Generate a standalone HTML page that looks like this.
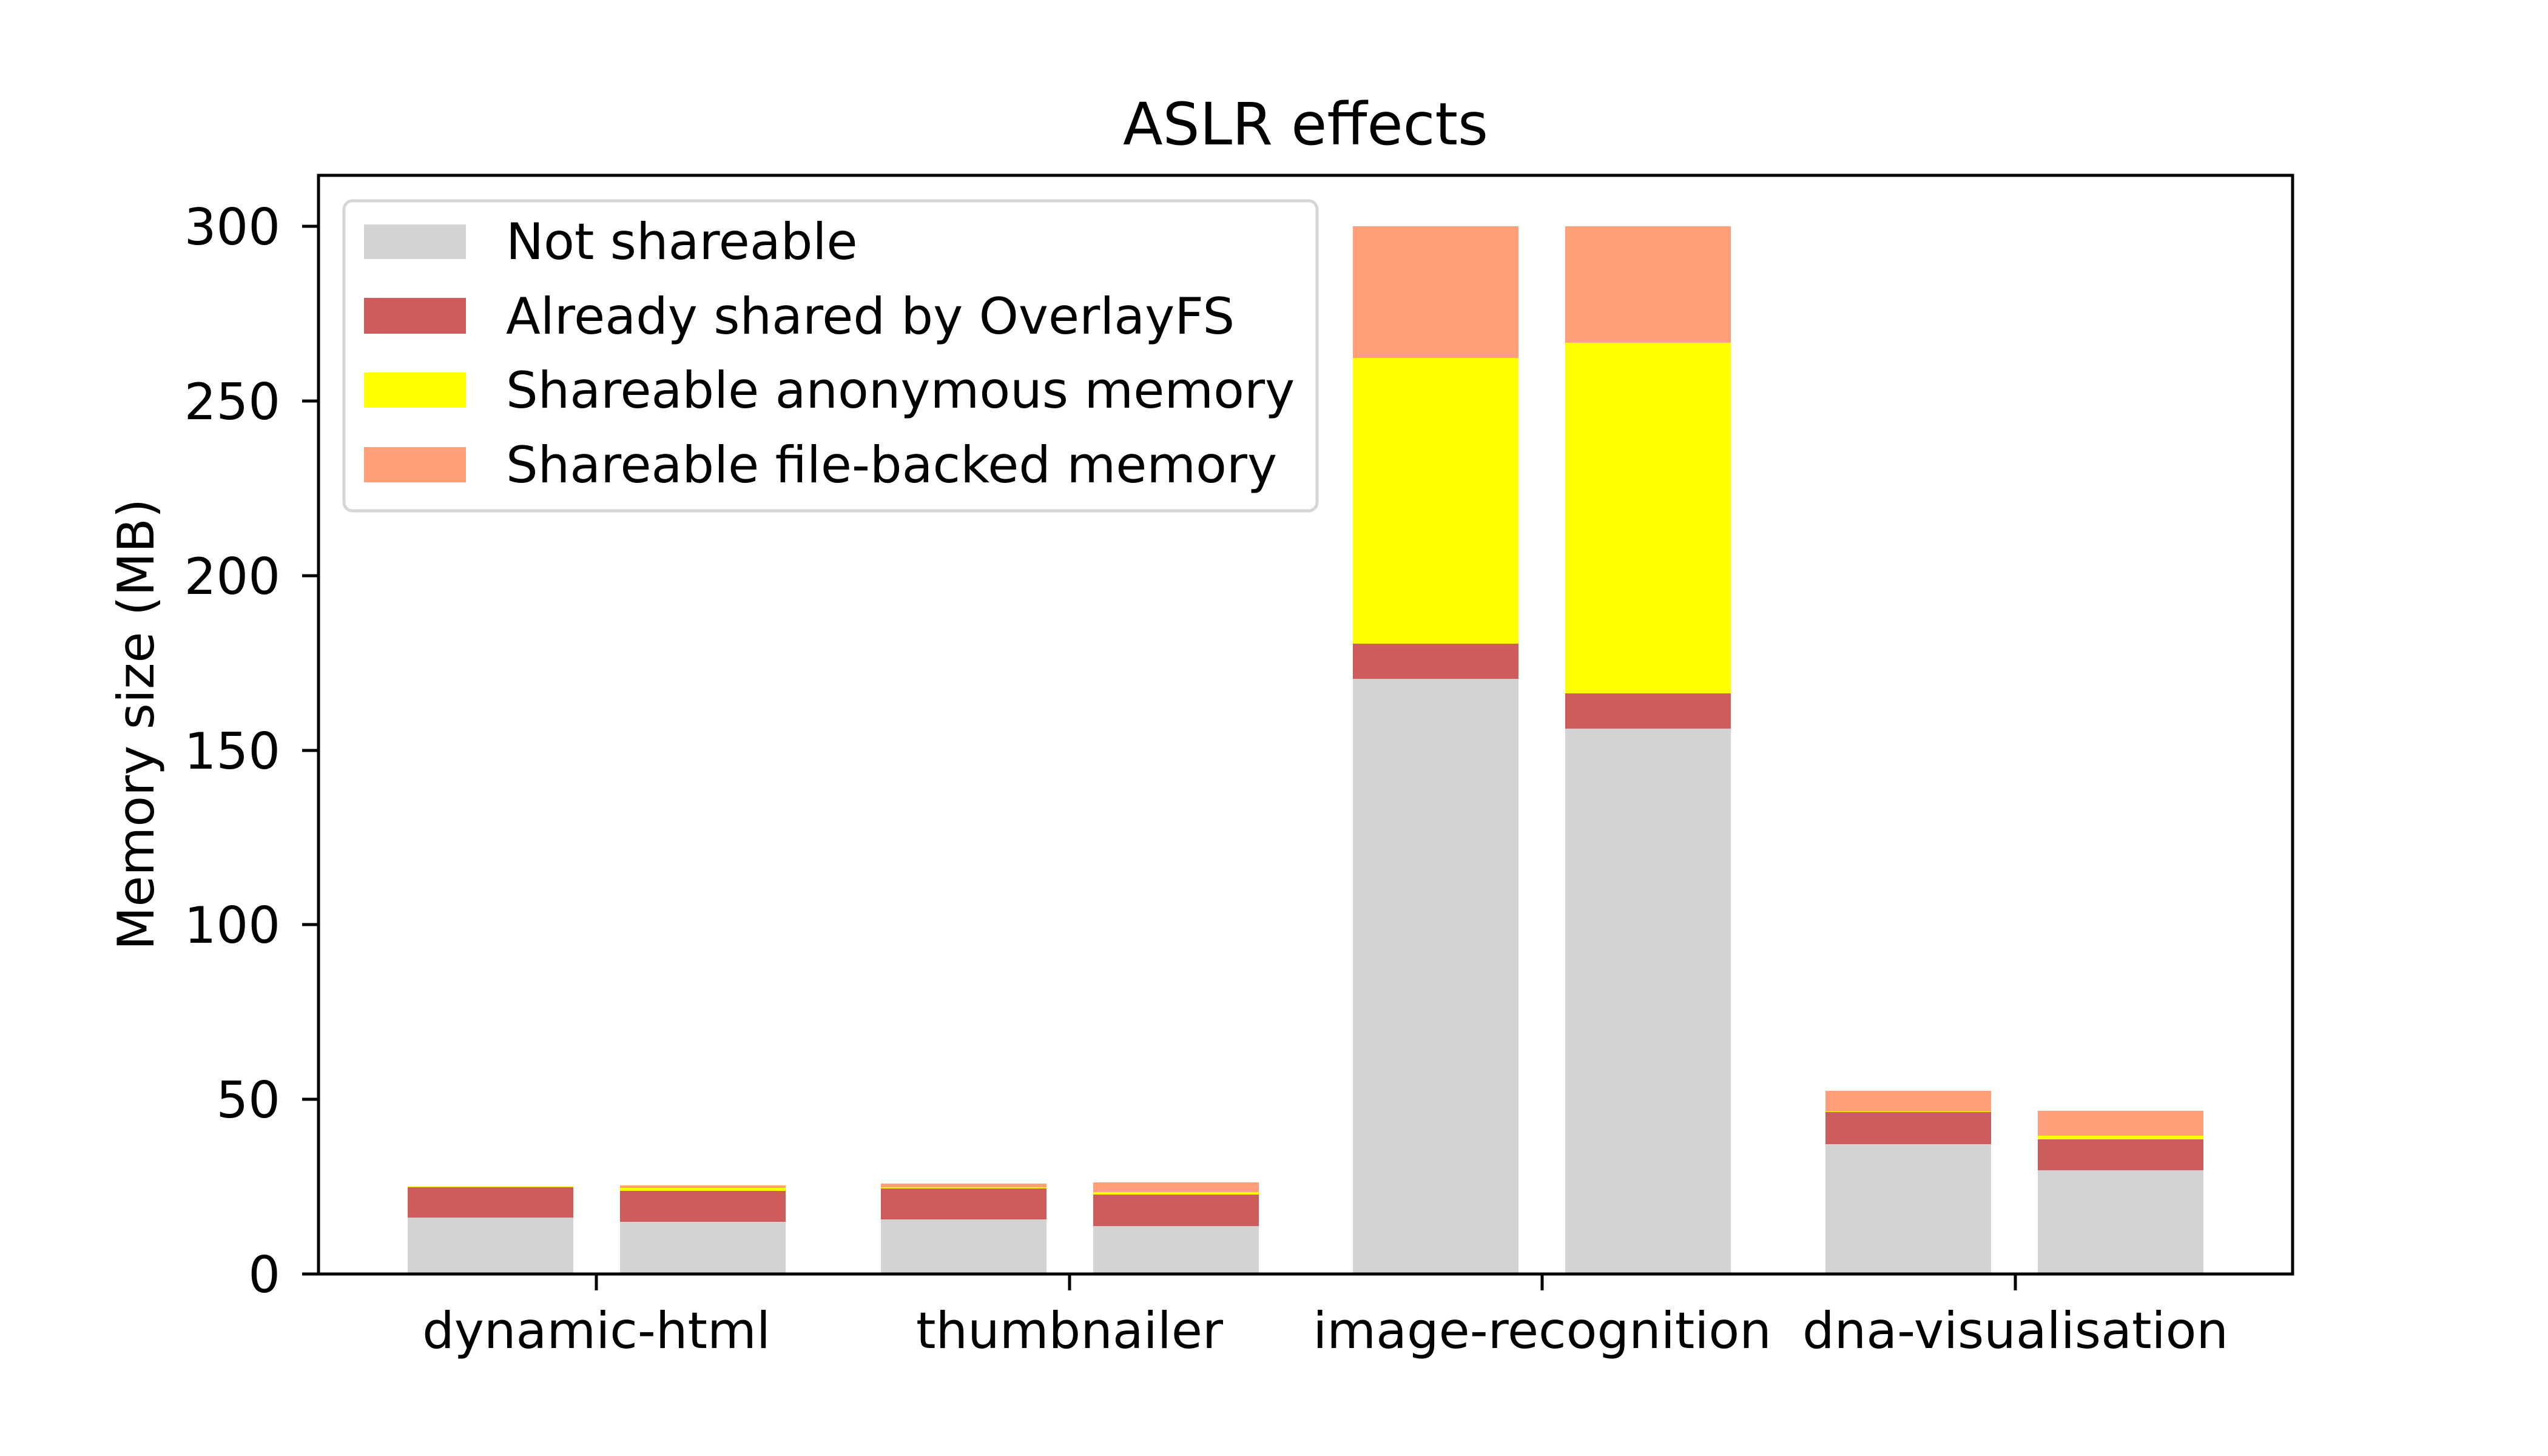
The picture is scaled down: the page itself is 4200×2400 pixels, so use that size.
<!DOCTYPE html>
<html><head><meta charset="utf-8"><style>html,body{margin:0;padding:0;background:#fff}svg{display:block}</style></head>
<body>
<svg width="4200" height="2400" xmlns="http://www.w3.org/2000/svg" font-family="DejaVu Sans, Liberation Sans, sans-serif">
<rect width="4200" height="2400" fill="#fff"/>
<text x="2152" y="238" font-size="96" text-anchor="middle">ASLR effects</text>
<g shape-rendering="crispEdges">
<rect x="672" y="2007" width="273" height="93" fill="#d3d3d3"/>
<rect x="672" y="1957" width="273" height="50" fill="#cd5c5c"/>
<rect x="672" y="1955" width="273" height="2" fill="#ffff00"/>
<rect x="1022" y="2014" width="273" height="86" fill="#d3d3d3"/>
<rect x="1022" y="1963" width="273" height="51" fill="#cd5c5c"/>
<rect x="1022" y="1958" width="273" height="5" fill="#ffff00"/>
<rect x="1022" y="1954" width="273" height="4" fill="#ffa07a"/>
<rect x="1452" y="2010" width="273" height="90" fill="#d3d3d3"/>
<rect x="1452" y="1959" width="273" height="51" fill="#cd5c5c"/>
<rect x="1452" y="1957" width="273" height="2" fill="#ffff00"/>
<rect x="1452" y="1951" width="273" height="6" fill="#ffa07a"/>
<rect x="1802" y="2021" width="273" height="79" fill="#d3d3d3"/>
<rect x="1802" y="1969" width="273" height="52" fill="#cd5c5c"/>
<rect x="1802" y="1965" width="273" height="4" fill="#ffff00"/>
<rect x="1802" y="1949" width="273" height="16" fill="#ffa07a"/>
<rect x="2230" y="1119" width="273" height="981" fill="#d3d3d3"/>
<rect x="2230" y="1061" width="273" height="58" fill="#cd5c5c"/>
<rect x="2230" y="590" width="273" height="471" fill="#ffff00"/>
<rect x="2230" y="373" width="273" height="217" fill="#ffa07a"/>
<rect x="2580" y="1201" width="273" height="899" fill="#d3d3d3"/>
<rect x="2580" y="1143" width="273" height="58" fill="#cd5c5c"/>
<rect x="2580" y="565" width="273" height="578" fill="#ffff00"/>
<rect x="2580" y="373" width="273" height="192" fill="#ffa07a"/>
<rect x="3009" y="1886" width="273" height="214" fill="#d3d3d3"/>
<rect x="3009" y="1833" width="273" height="53" fill="#cd5c5c"/>
<rect x="3009" y="1832" width="273" height="1" fill="#ffff00"/>
<rect x="3009" y="1798" width="273" height="34" fill="#ffa07a"/>
<rect x="3359" y="1929" width="273" height="171" fill="#d3d3d3"/>
<rect x="3359" y="1878" width="273" height="51" fill="#cd5c5c"/>
<rect x="3359" y="1872" width="273" height="6" fill="#ffff00"/>
<rect x="3359" y="1831" width="273" height="41" fill="#ffa07a"/>
</g>
<rect x="525" y="289" width="3254" height="1811" fill="none" stroke="#000" stroke-width="5"/>
<g stroke="#000" stroke-width="5">
<line x1="498" y1="2100" x2="525" y2="2100"/>
<line x1="498" y1="1812" x2="525" y2="1812"/>
<line x1="498" y1="1524" x2="525" y2="1524"/>
<line x1="498" y1="1237" x2="525" y2="1237"/>
<line x1="498" y1="949" x2="525" y2="949"/>
<line x1="498" y1="661" x2="525" y2="661"/>
<line x1="498" y1="373" x2="525" y2="373"/>
<line x1="983" y1="2100" x2="983" y2="2127"/>
<line x1="1763" y1="2100" x2="1763" y2="2127"/>
<line x1="2542" y1="2100" x2="2542" y2="2127"/>
<line x1="3322" y1="2100" x2="3322" y2="2127"/>
</g>
<g font-size="83" text-anchor="end">
<text x="462" y="2130">0</text>
<text x="462" y="1842">50</text>
<text x="462" y="1554">100</text>
<text x="462" y="1267">150</text>
<text x="462" y="979">200</text>
<text x="462" y="691">250</text>
<text x="462" y="403">300</text>
</g>
<g font-size="83" text-anchor="middle">
<text x="983" y="2222">dynamic-html</text>
<text x="1763" y="2222">thumbnailer</text>
<text x="2542" y="2222">image-recognition</text>
<text x="3322" y="2222">dna-visualisation</text>
</g>
<text transform="translate(253,1194) rotate(-90)" font-size="83" text-anchor="middle">Memory size (MB)</text>
<rect x="567" y="331" width="1604" height="511" rx="14" fill="#fff" fill-opacity="0.8" stroke="#d6d6d6" stroke-width="5"/>
<rect x="600" y="370" width="168" height="57" fill="#d3d3d3"/>
<rect x="600" y="491" width="168" height="59" fill="#cd5c5c"/>
<rect x="600" y="614" width="168" height="58" fill="#ffff00"/>
<rect x="600" y="737" width="168" height="58" fill="#ffa07a"/>
<g font-size="83">
<text x="834" y="427">Not shareable</text>
<text x="834" y="550">Already shared by OverlayFS</text>
<text x="834" y="672">Shareable anonymous memory</text>
<text x="834" y="795">Shareable file-backed memory</text>
</g>
</svg>
</body></html>
